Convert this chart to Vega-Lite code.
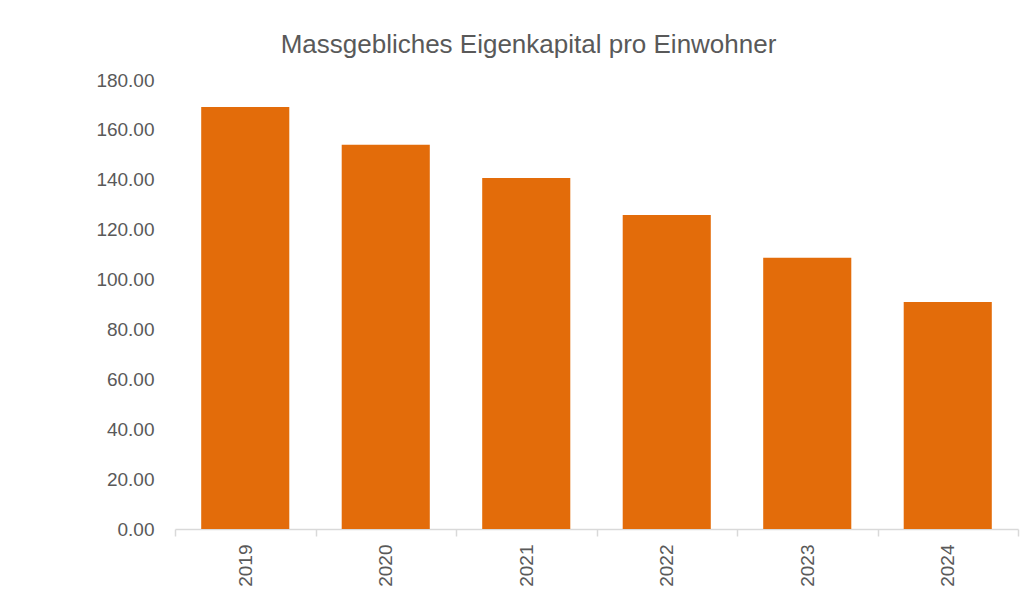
{
  "$schema": "https://vega.github.io/schema/vega-lite/v6.json",
  "width": 843,
  "height": 449,
  "autosize": "none",
  "padding": {"left": 175, "top": 80, "right": 18, "bottom": 74},
  "background": "white",
  "title": {
    "text": "Massgebliches Eigenkapital pro Einwohner",
    "font": "Liberation Sans",
    "fontSize": 26,
    "fontWeight": "normal",
    "color": "#595959",
    "anchor": "middle",
    "dx": -68,
    "offset": 13
  },
  "data": {
    "values": [
      {"Jahr": "2019", "Wert": 169.2},
      {"Jahr": "2020", "Wert": 154.0},
      {"Jahr": "2021", "Wert": 140.7},
      {"Jahr": "2022", "Wert": 125.9},
      {"Jahr": "2023", "Wert": 108.7},
      {"Jahr": "2024", "Wert": 91.0}
    ]
  },
  "config": {"view": {"stroke": null}},
  "mark": {"type": "bar", "color": "#E36C0A", "width": {"band": 0.627}},
  "encoding": {
    "x": {
      "field": "Jahr",
      "type": "ordinal",
      "scale": {"paddingInner": 0, "paddingOuter": 0},
      "axis": {
        "title": null,
        "labelAngle": -90,
        "labelFont": "Liberation Sans",
        "labelFontSize": 19,
        "labelColor": "#595959",
        "labelPadding": 8,
        "domainColor": "#D9D9D9",
        "domainWidth": 1.5,
        "tickColor": "#D9D9D9",
        "tickWidth": 1.5,
        "tickSize": 7,
        "tickBand": "extent"
      }
    },
    "y": {
      "field": "Wert",
      "type": "quantitative",
      "scale": {"domain": [0, 180], "nice": false},
      "axis": {
        "title": null,
        "values": [0, 20, 40, 60, 80, 100, 120, 140, 160, 180],
        "format": ".2f",
        "grid": false,
        "domain": false,
        "ticks": false,
        "labelFont": "Liberation Sans",
        "labelFontSize": 19,
        "labelColor": "#595959",
        "labelPadding": 21
      }
    }
  }
}
